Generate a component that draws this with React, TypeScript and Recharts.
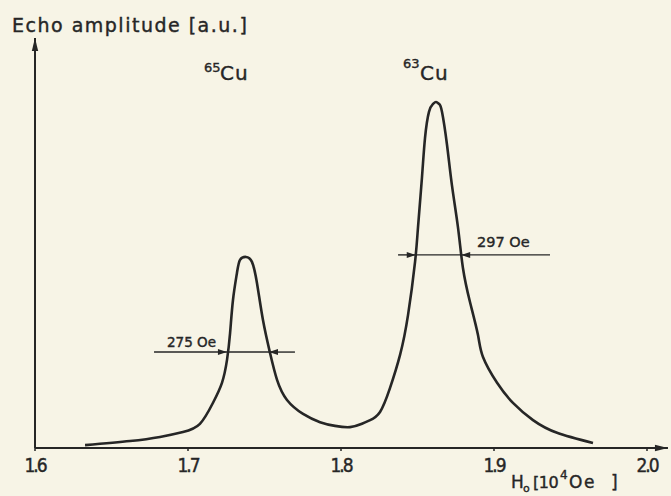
import { LineChart, Line, XAxis, YAxis, ReferenceLine } from "recharts";

// H0 in units of 10^4 Oe, echo amplitude in a.u.
const FIELD_H0 = [
  1.6327, 1.6621, 1.6817, 1.6967, 1.7078, 1.7163, 1.7222, 1.7255, 1.7275, 1.7294,
  1.732, 1.734, 1.7379, 1.7418, 1.7451, 1.749, 1.7536, 1.7582, 1.7647, 1.7752,
  1.7863, 1.7961, 1.8059, 1.8137, 1.819, 1.8255, 1.832, 1.8386, 1.8438, 1.8484,
  1.8503, 1.8529, 1.8549, 1.8575, 1.8601, 1.8621, 1.8641, 1.866, 1.8693, 1.8725,
  1.8765, 1.8797, 1.8843, 1.8895, 1.8928, 1.902, 1.9124, 1.9255, 1.9412, 1.9647,
];
const ECHO_AMP = [
  0.07, 0.17, 0.27, 0.39, 0.59, 1.1, 1.59, 2.15, 2.8, 3.61,
  4.27, 4.59, 4.66, 4.54, 4.02, 3.12, 2.32, 1.66, 1.17, 0.83,
  0.63, 0.54, 0.51, 0.59, 0.68, 0.88, 1.46, 2.27, 3.24, 4.54,
  5.37, 6.59, 7.56, 8.2, 8.39, 8.44, 8.39, 8.2, 7.39, 6.41,
  5.37, 4.39, 3.56, 2.76, 2.22, 1.59, 1.1, 0.68, 0.37, 0.12,
];
const X_TICKS = [1.6, 1.7, 1.8, 1.9, 2.0];

// half-width markers
const PEAK_CENTERS = [1.7392, 1.8637];
const FWHM_OE = [275, 297];
const FWHM_LEVELS = [2.34, 4.71];
const MARKER_FROM = [1.6778, 1.8373];
const MARKER_TO = [1.7699, 1.9366];

const INK = "#262626";
const PAPER = "#f7f4e6";
const FONT = "'DejaVu Sans', sans-serif";

const data = FIELD_H0.map((h, i) => ({ h, amp: ECHO_AMP[i] }));

function arrow(len: number, half: number, width: number) {
  return (props: any) => {
    const { x1, y1, x2, y2 } = props;
    const dx = x2 - x1;
    const dy = y2 - y1;
    const d = Math.hypot(dx, dy) || 1;
    const ux = dx / d;
    const uy = dy / d;
    const bx = x2 - ux * len;
    const by = y2 - uy * len;
    const pts = `${x2},${y2} ${bx - uy * half},${by + ux * half} ${bx + uy * half},${by - ux * half}`;
    return (
      <g>
        <line x1={x1} y1={y1} x2={x2} y2={y2} stroke={INK} strokeWidth={width} />
        <polygon points={pts} fill={INK} />
      </g>
    );
  };
}

const axisArrow = arrow(13, 3.2, 2);
const fwhmArrow = arrow(9, 3, 1.4);

export default function App() {
  return (
    <div style={{ position: "absolute", left: 0, top: 0, width: 671, height: 496, background: PAPER }}>
      <LineChart width={671} height={496} data={data} margin={{ top: 38, right: 24, left: 35, bottom: 0 }}>
        <XAxis
          type="number"
          dataKey="h"
          domain={[1.6, 2.0]}
          ticks={X_TICKS}
          tickFormatter={(v: number) => v.toFixed(1)}
          axisLine={false}
          tickLine={{ stroke: INK, strokeWidth: 1.5 }}
          tickSize={3}
          tickMargin={8}
          tick={{
            fill: INK,
            stroke: INK,
            strokeWidth: 0.4,
            fontSize: 19,
            fontFamily: "'DejaVu Sans Condensed', 'DejaVu Sans', sans-serif",
            letterSpacing: -2,
          }}
          height={48}
          allowDataOverflow
        />
        <YAxis hide domain={[0, 10]} />
        <ReferenceLine
          segment={[{ x: 1.6, y: 0 }, { x: 2.0137, y: 0 }]}
          ifOverflow="visible"
          shape={axisArrow}
        />
        <ReferenceLine
          segment={[{ x: 1.6, y: 0 }, { x: 1.6, y: 10 }]}
          ifOverflow="visible"
          shape={axisArrow}
        />
        {PEAK_CENTERS.map((c, i) => {
          const w = FWHM_OE[i] / 1e4;
          const lo = c - w / 2;
          const hi = c + w / 2;
          const y = FWHM_LEVELS[i];
          return [
            <ReferenceLine
              key={`a${i}`}
              segment={[{ x: MARKER_FROM[i], y }, { x: lo, y }]}
              ifOverflow="visible"
              shape={fwhmArrow}
            />,
            <ReferenceLine
              key={`m${i}`}
              segment={[{ x: lo, y }, { x: hi, y }]}
              ifOverflow="visible"
              stroke={INK}
              strokeWidth={1.4}
            />,
            <ReferenceLine
              key={`b${i}`}
              segment={[{ x: MARKER_TO[i], y }, { x: hi, y }]}
              ifOverflow="visible"
              shape={fwhmArrow}
            />,
          ];
        })}
        <Line
          type="natural"
          dataKey="amp"
          stroke={INK}
          strokeWidth={2.6}
          dot={false}
          activeDot={false}
          isAnimationActive={false}
        />
      </LineChart>
      <svg
        width={671}
        height={496}
        style={{ position: "absolute", left: 0, top: 0, pointerEvents: "none" }}
        fontFamily={FONT}
        fill={INK}
        stroke={INK}
        strokeWidth={0.4}
      >
        <text x={12} y={32} fontSize={19} style={{ letterSpacing: 1.5 }}>
          Echo amplitude [a.u.]
        </text>
        <text x={204} y={72} fontSize={13}>65</text>
        <text x={220} y={80} fontSize={20} style={{ letterSpacing: 1 }}>Cu</text>
        <text x={403} y={68} fontSize={13}>63</text>
        <text x={420} y={80} fontSize={20} style={{ letterSpacing: 1 }}>Cu</text>
        <text x={167} y={347} fontSize={13.5}>275 Oe</text>
        <text x={477} y={247} fontSize={14.5}>297 Oe</text>
        <text x={511} y={488} fontSize={17}>H</text>
        <text x={523} y={492} fontSize={11}>o</text>
        <text x={533} y={488} fontSize={16} style={{ letterSpacing: -0.5 }}>[10</text>
        <text x={560} y={479} fontSize={12}>4</text>
        <text x={569} y={488} fontSize={17} style={{ letterSpacing: 1.5 }}>Oe</text>
        <text x={611} y={488} fontSize={17}>]</text>
      </svg>
    </div>
  );
}
